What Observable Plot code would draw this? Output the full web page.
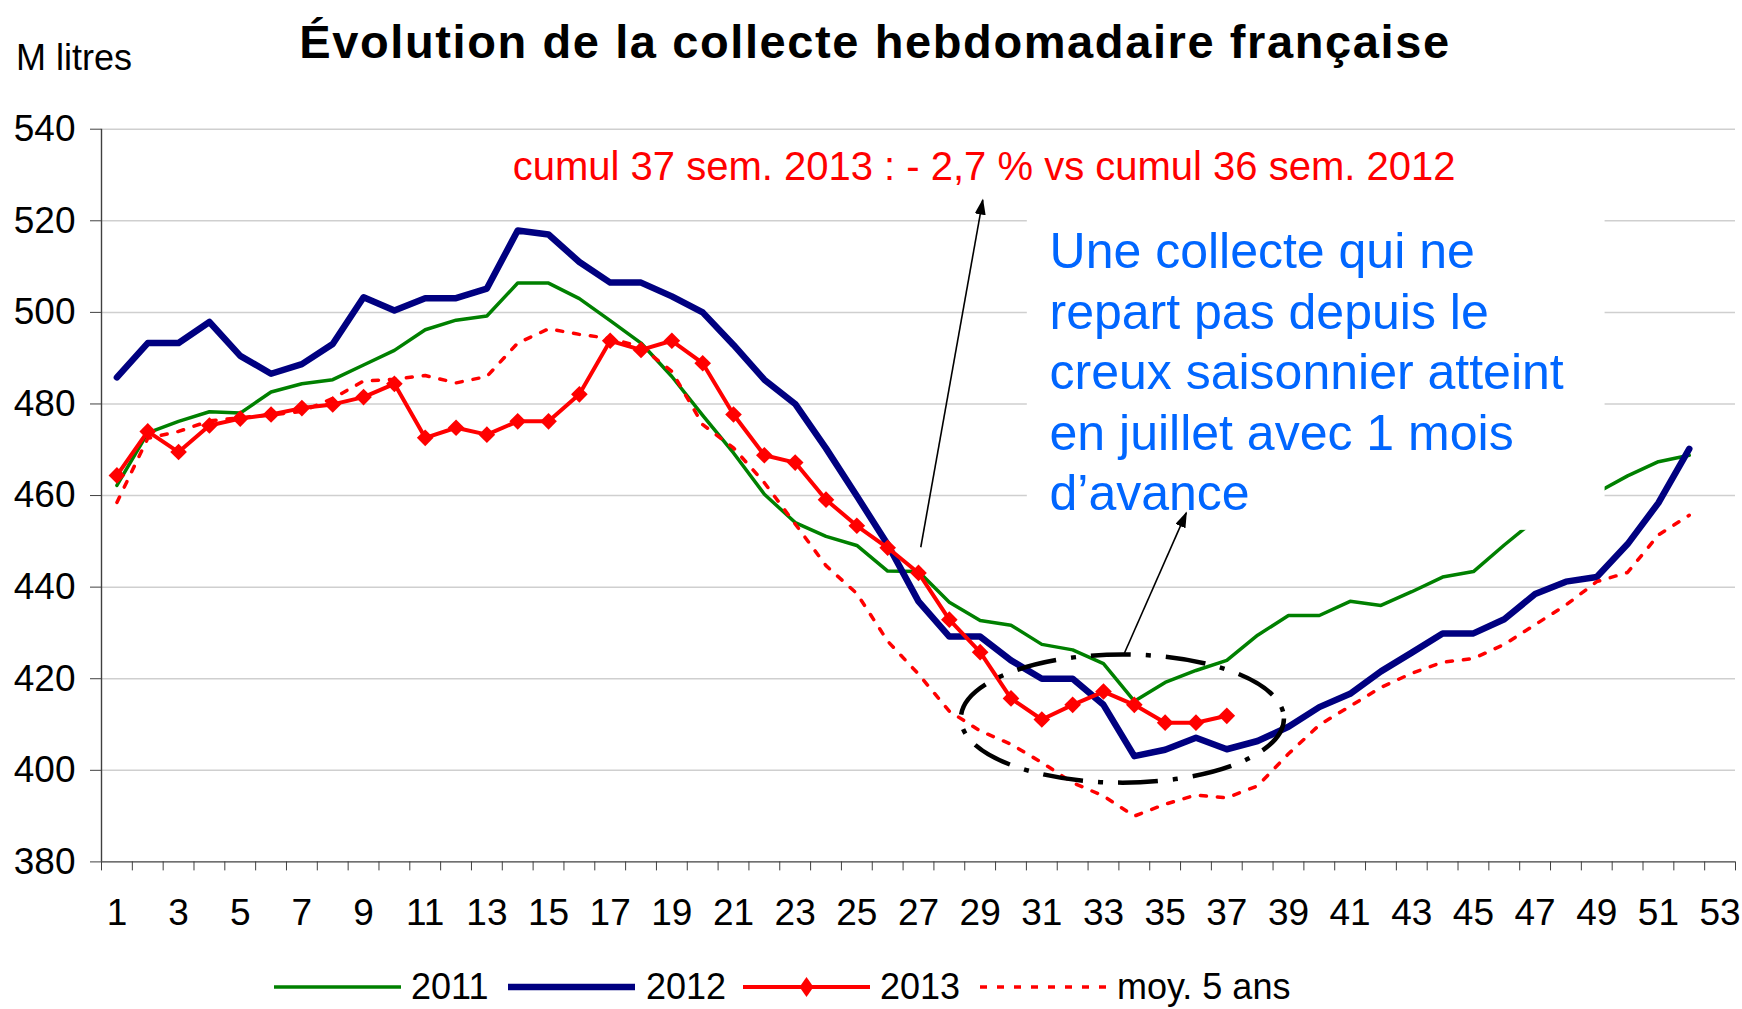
<!DOCTYPE html>
<html><head><meta charset="utf-8">
<script src="https://cdn.jsdelivr.net/npm/d3@7"></script>
<script src="https://cdn.jsdelivr.net/npm/@observablehq/plot@0.6"></script>
<style>
body{margin:0;background:#fff;font-family:"Liberation Sans",Arial,sans-serif;}
#page{position:relative;width:1742px;height:1009px;overflow:hidden;background:#fff;color:#000}
#title{position:absolute;left:0;width:1742px;top:18px;text-align:center;font-weight:bold;font-size:47px;line-height:47px;letter-spacing:1.6px;padding-left:8px;box-sizing:border-box}
#unit{position:absolute;left:16px;top:40px;font-size:36px;line-height:36px}
#chart{position:absolute;left:0;top:100px}
.lg{position:absolute;font-size:36px;line-height:36px;top:969px;white-space:nowrap}
.sw{position:absolute;top:977px}
</style></head>
<body><div id="page">
<div id="title">Évolution de la collecte hebdomadaire française</div>
<div id="unit">M litres</div>
<div id="chart"></div>
<div id="legend"></div>
</div>
<script>
// ---- data ----
const weeks = Array.from({length: 52}, (_, i) => i + 1);
const s2011 = [462.2,473.7,476.2,478.3,478.0,482.6,484.4,485.3,488.5,491.7,496.2,498.3,499.2,506.4,506.4,503.0,498.2,493.3,486.0,477.5,469.3,460.3,454.1,451.1,449.1,443.5,443.4,436.7,432.7,431.7,427.5,426.3,423.3,415.1,419.2,421.8,424.0,429.5,433.8,433.8,436.9,436.0,439.0,442.2,443.4,449.2,454.7,458.0,460.6,464.3,467.4,468.8];
const s2012 = [485.8,493.3,493.3,497.9,490.5,486.6,488.7,493.1,503.3,500.4,503.1,503.1,505.2,517.9,517.0,511.0,506.5,506.5,503.5,500.0,492.9,485.3,480.0,470.3,459.9,449.3,436.9,429.2,429.2,424.0,420.0,420.0,414.3,403.1,404.5,407.1,404.6,406.4,409.5,413.8,416.7,421.6,425.7,429.9,429.9,433.0,438.5,441.2,442.2,449.4,458.4,470.2];
const s2013 = [464.4,474.0,469.5,475.3,476.8,477.7,479.1,479.9,481.5,484.4,472.6,474.8,473.3,476.2,476.2,482.1,493.8,491.8,493.8,488.9,477.7,468.8,467.2,459.1,453.4,448.6,443.1,432.9,425.8,415.7,411.1,414.3,417.2,414.3,410.4,410.4,411.9];
const sMoy = [458.5,472.5,474.0,476.3,477.0,477.6,478.4,481.2,485.0,485.4,486.2,484.6,486.0,493.3,496.4,495.2,494.3,492.5,487.1,475.5,470.4,462.8,453.8,444.7,438.6,428.2,421.0,412.9,408.6,405.7,401.7,397.3,394.4,390.0,392.6,394.6,394.0,396.6,403.6,409.9,414.0,418.1,421.2,423.6,424.4,427.5,431.8,436.1,441.2,443.2,451.4,455.7];
const seriesNames = ["2011", "2012", "2013", "moy. 5 ans"];
const yTicks = [380, 400, 420, 440, 460, 480, 500, 520, 540];
const xLabels = [1,3,5,7,9,11,13,15,17,19,21,23,25,27,29,31,33,35,37,39,41,43,45,47,49,51,53];
const xBounds = Array.from({length: 54}, (_, i) => i + 0.5);
const noteCumul = "cumul 37 sem. 2013 : - 2,7 % vs cumul 36 sem. 2012";
const noteBlue = "Une collecte qui ne\nrepart pas depuis le\ncreux saisonnier atteint\nen juillet avec 1 mois\nd\u2019avance";

// ---- annotation placement (data coordinates) ----
const cumulPos = {x: 13.84, y: 528.8};
const bluePos = {x: 31.25, y: 456.8};
const boxPos = {x1: 30.53, x2: 49.27, y1: 452.4, y2: 523.5};
const arrows = [
  {x1: 27.09, y1: 448.6, x2: 29.1, y2: 524.4},
  {x1: 33.69, y1: 425.4, x2: 35.7, y2: 456.1}
];
const ellipse = {cx: 33.63, cy: 411.2, rx: 5.24, ry: 14};

const colors = {"2011": "#008000", "2012": "#000080", "2013": "#FF0000", "moy. 5 ans": "#FF0000"};
const toRows = (vals) => vals.map((v, i) => ({week: weeks[i], value: v}));
const r2011 = toRows(s2011), r2012 = toRows(s2012), r2013 = toRows(s2013), rMoy = toRows(sMoy);

function annotate(index, scales) {
  const {x, y} = scales;
  const g = d3.create("svg:g");
  const defs = g.append("defs");
  defs.append("marker").attr("id", "ahead").attr("viewBox", "0 0 10 10")
    .attr("refX", 9).attr("refY", 5).attr("markerUnits", "userSpaceOnUse")
    .attr("markerWidth", 16).attr("markerHeight", 11).attr("orient", "auto")
    .attr("preserveAspectRatio", "none")
    .append("path").attr("d", "M0,0L10,5L0,10Z").attr("fill", "#000");
  const cx = x(ellipse.cx), cy = y(ellipse.cy);
  g.append("ellipse").attr("cx", cx).attr("cy", cy)
    .attr("rx", Math.abs(x(ellipse.cx + ellipse.rx) - cx))
    .attr("ry", Math.abs(y(ellipse.cy - ellipse.ry) - cy))
    .attr("fill", "none").attr("stroke", "#000").attr("stroke-width", 4.5)
    .attr("stroke-dasharray", "40,15,5,15");
  for (const a of arrows) {
    g.append("line").attr("x1", x(a.x1)).attr("y1", y(a.y1)).attr("x2", x(a.x2)).attr("y2", y(a.y2))
      .attr("stroke", "#000").attr("stroke-width", 1.6).attr("marker-end", "url(#ahead)");
  }
  return g.node();
}

const chart = Plot.plot({
  width: 1742, height: 860,
  marginLeft: 101, marginRight: 7, marginTop: 28.7, marginBottom: 98.6,
  x: {type: "linear", domain: [0.5, 53.5]},
  y: {domain: [380, 540]},
  style: {fontFamily: "'Liberation Sans', Arial, sans-serif", fontSize: "37px", background: "white", color: "#000", overflow: "visible"},
  marks: [
    Plot.gridY(yTicks.filter(d => d > 380), {stroke: "#CFCFCF", strokeOpacity: 1, strokeWidth: 1.5}),
    Plot.line(r2011, {x: "week", y: "value", stroke: colors["2011"], strokeWidth: 3.5}),
    Plot.line(r2012, {x: "week", y: "value", stroke: colors["2012"], strokeWidth: 6.5}),
    Plot.line(r2013, {x: "week", y: "value", stroke: colors["2013"], strokeWidth: 4}),
    Plot.dot(r2013, {x: "week", y: "value", symbol: "diamond2", r: 7.5, fill: colors["2013"], stroke: "none"}),
    Plot.line(rMoy, {x: "week", y: "value", stroke: colors["moy. 5 ans"], strokeWidth: 3.5, strokeDasharray: "6,11"}),
    Plot.rect([boxPos], {x1: "x1", x2: "x2", y1: "y1", y2: "y2", fill: "white"}),
    Plot.text([cumulPos], {x: "x", y: "y", text: () => noteCumul, textAnchor: "start", lineAnchor: "bottom", fill: "#FF0000", fontSize: 40}),
    Plot.text([bluePos], {x: "x", y: "y", text: () => noteBlue, textAnchor: "start", lineAnchor: "bottom", fill: "#0066FF", fontSize: 50, lineHeight: 1.21}),
    annotate,
    Plot.ruleY([380], {stroke: "#404040", strokeWidth: 1.4}),
    Plot.ruleX([0.5], {stroke: "#404040", strokeWidth: 1.4}),
    Plot.axisY({ticks: yTicks, tickSize: 11, tickPadding: 15, label: null, stroke: "#404040", fontSize: 37}),
    Plot.axisX({ticks: xBounds, tickSize: 9, tickFormat: () => "", label: null, stroke: "#404040"}),
    Plot.axisX({ticks: xLabels, tickSize: 0, tickPadding: 37, label: null, tickFormat: d => String(d), fontSize: 37})
  ]
});
document.getElementById("chart").appendChild(chart);

// ---- legend ----
const lg = document.getElementById("legend");
const items = [
  {name: seriesNames[0], sw: 274, tx: 411, w: 3.5, dash: null, marker: false},
  {name: seriesNames[1], sw: 508, tx: 646, w: 6.5, dash: null, marker: false},
  {name: seriesNames[2], sw: 743, tx: 880, w: 4, dash: null, marker: true},
  {name: seriesNames[3], sw: 980, tx: 1117, w: 3.5, dash: "7,10", marker: false}
];
for (const it of items) {
  const svg = d3.create("svg").attr("class", "sw").attr("width", 127).attr("height", 20)
    .style("left", it.sw + "px");
  svg.append("line").attr("x1", 0).attr("y1", 10).attr("x2", 127).attr("y2", 10)
    .attr("stroke", colors[it.name]).attr("stroke-width", it.w)
    .attr("stroke-dasharray", it.dash).attr("stroke-linecap", it.dash ? "butt" : "round");
  if (it.marker) svg.append("path").attr("d", "M63.5,0L70.5,10L63.5,20L56.5,10Z").attr("fill", colors[it.name]);
  lg.appendChild(svg.node());
  const t = document.createElement("span");
  t.className = "lg"; t.style.left = it.tx + "px"; t.textContent = it.name;
  lg.appendChild(t);
}
</script>
</body></html>
